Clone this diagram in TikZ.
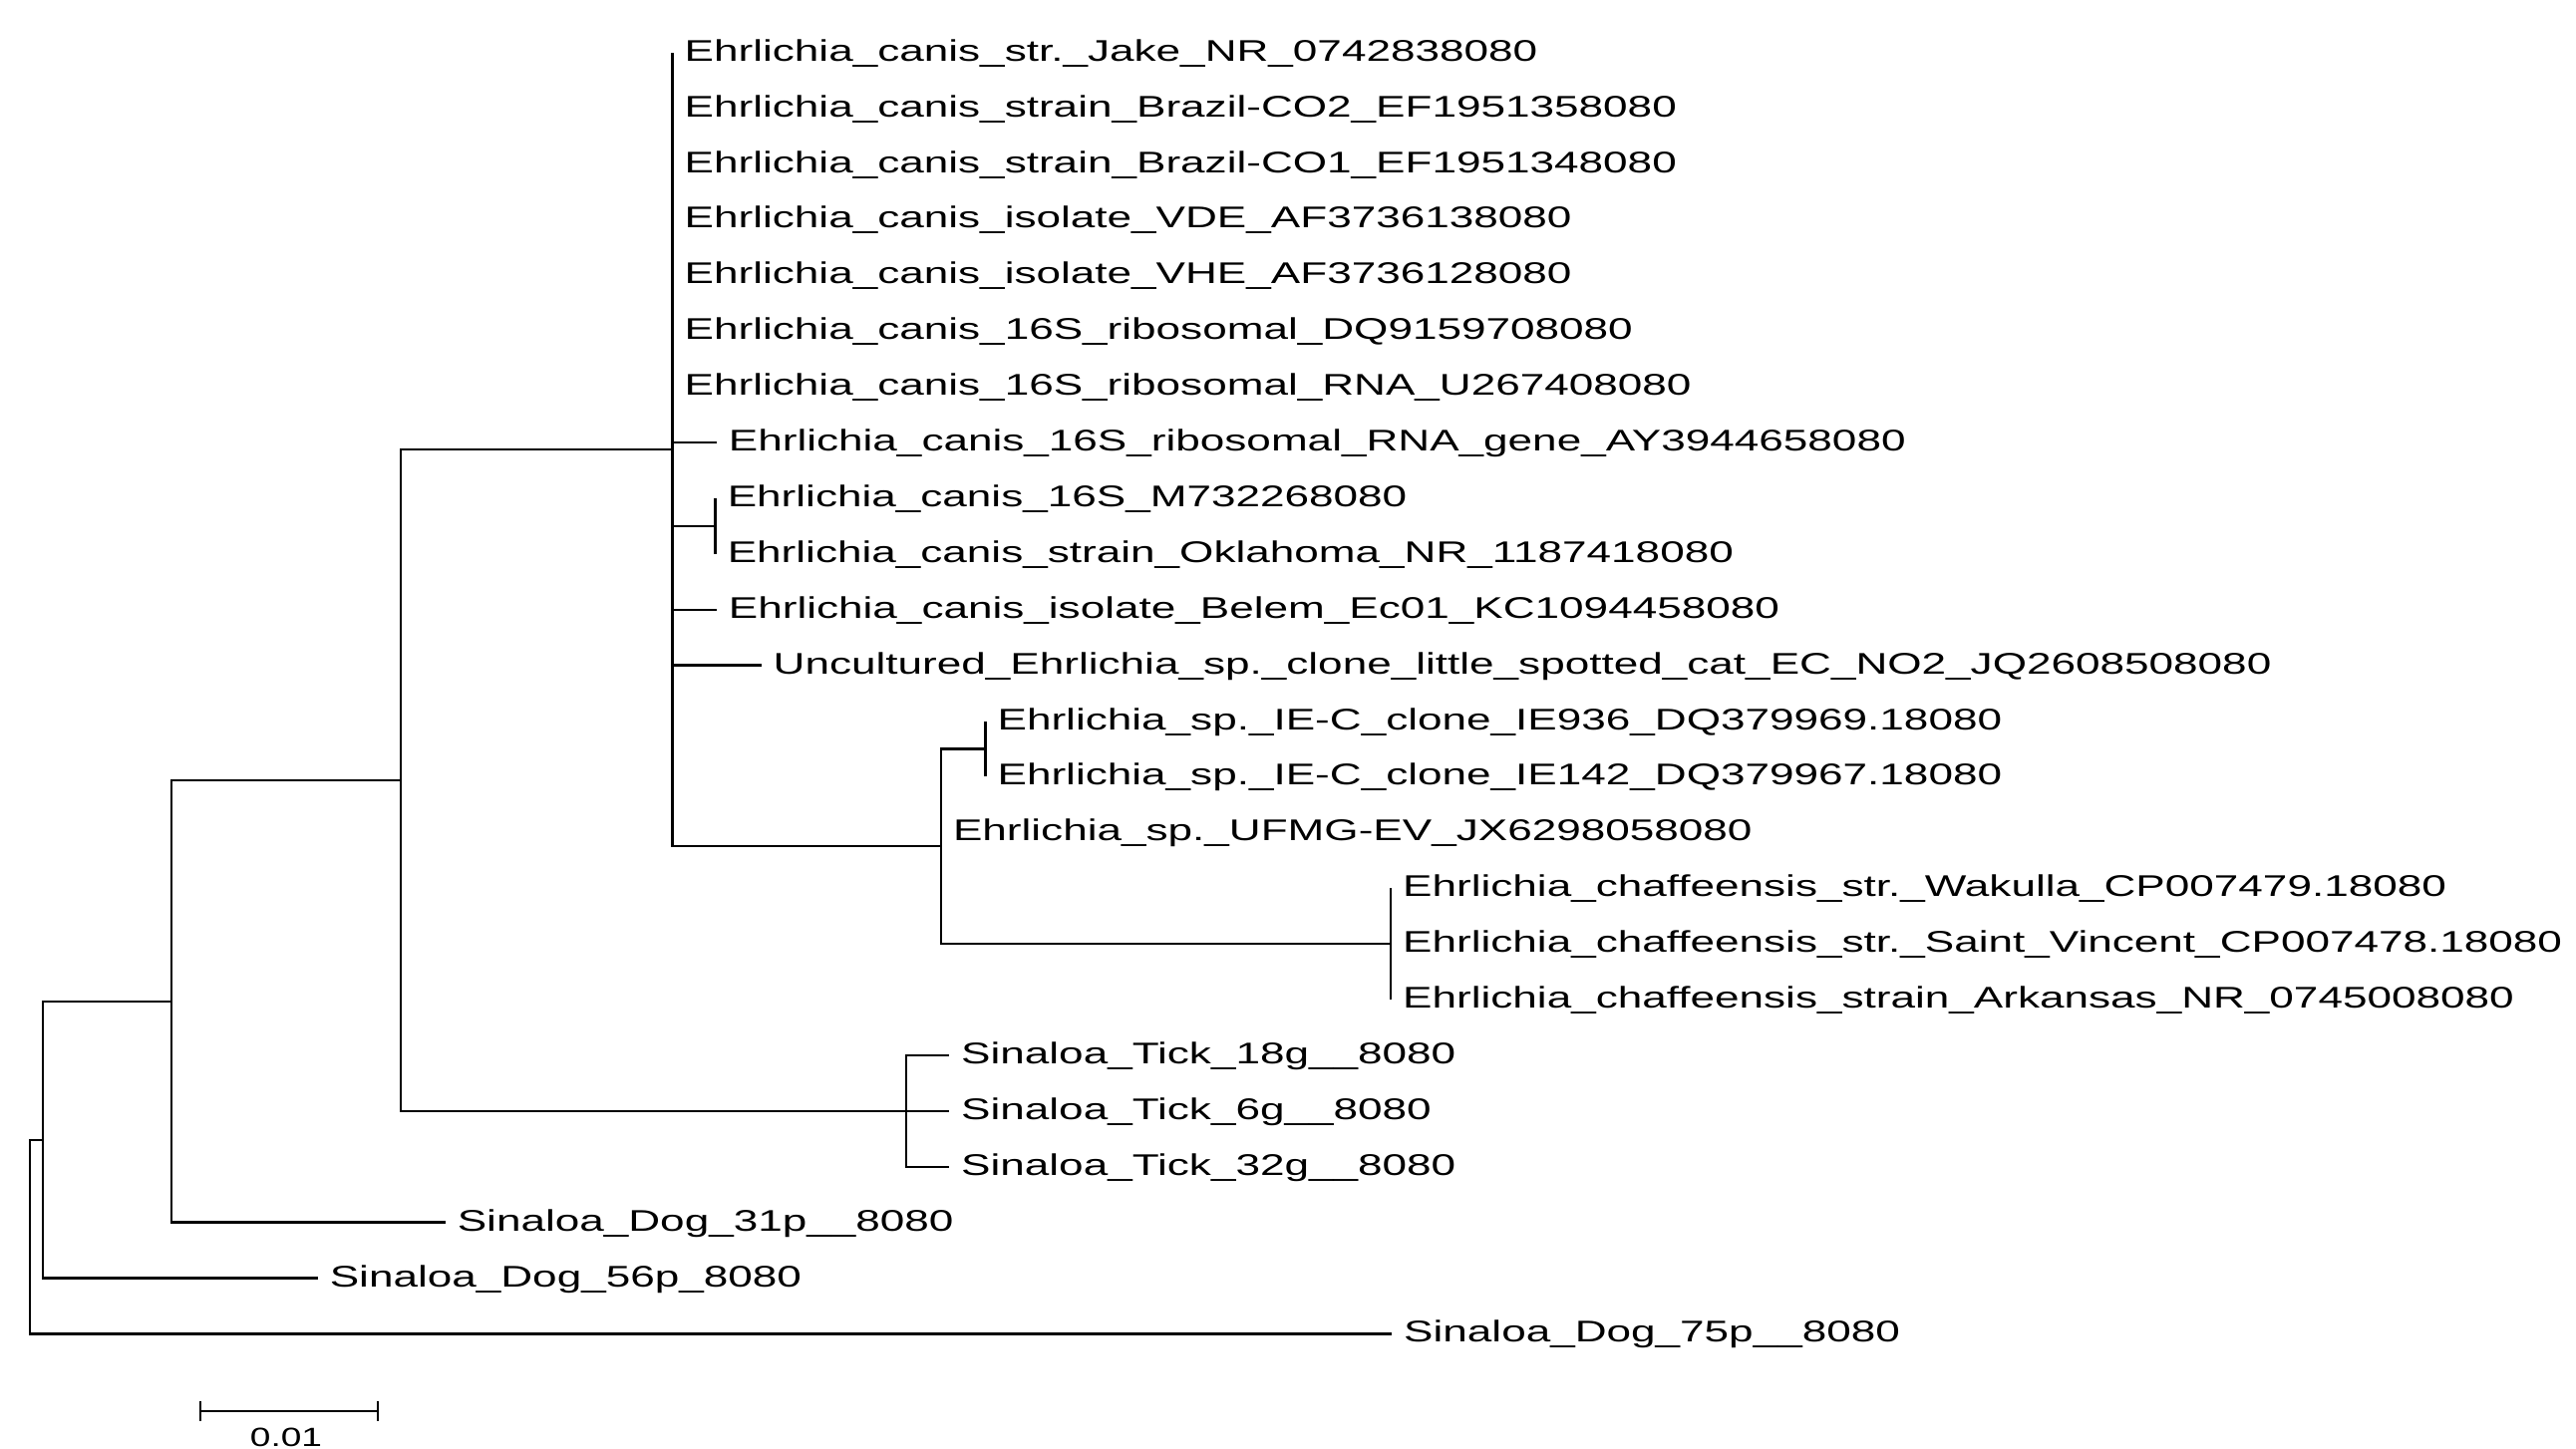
\documentclass[tikz,border=0pt]{standalone}
\usepackage{fontspec}
\newfontfamily\treefont[FakeStretch=1.47]{Liberation Sans}
\newfontfamily\barfont[FakeStretch=1.4]{Liberation Sans}
\begin{document}
\begin{tikzpicture}[x=1pt,y=-1pt,
  branch/.style={line width=2.3pt, line join=miter, draw=black},
  leaf/.style={anchor=base west, inner sep=0pt, xshift=12pt, yshift=-8.5pt,
    font=\treefont\fontsize{30}{36}\selectfont, text=black}]
\fill[white] (0,0) rectangle (2584,1454);
\useasboundingbox (0,0) rectangle (2584,1454);

% internal nodes
\coordinate (R) at (30,1241);
\coordinate (G) at (43,1143.7);
\coordinate (F) at (172,1004.9);
\coordinate (E) at (402,783.25);
\coordinate (A) at (674.5,451);
\coordinate (N) at (717.6,527.85);
\coordinate (B) at (943.8,849.3);
\coordinate (C) at (988.4,751.45);
\coordinate (D) at (1395,947.1);
\coordinate (T) at (909,1114.8);

% leaf ends
\coordinate (l1) at (674.5,52.7);
\coordinate (l2) at (674.5,108.6);
\coordinate (l3) at (674.5,164.5);
\coordinate (l4) at (674.5,220.4);
\coordinate (l5) at (674.5,276.3);
\coordinate (l6) at (674.5,332.2);
\coordinate (l7) at (674.5,388.1);
\coordinate (l8) at (718.7,444.0);
\coordinate (l9) at (717.6,499.9);
\coordinate (l10) at (717.6,555.8);
\coordinate (l11) at (718.7,611.7);
\coordinate (l12) at (763.5,667.6);
\coordinate (l13) at (988.4,723.5);
\coordinate (l14) at (988.4,779.4);
\coordinate (l15) at (943.8,835.3);
\coordinate (l16) at (1395,891.2);
\coordinate (l17) at (1395,947.1);
\coordinate (l18) at (1395,1003.0);
\coordinate (l19) at (952,1058.9);
\coordinate (l20) at (952,1114.8);
\coordinate (l21) at (952,1170.7);
\coordinate (l22) at (446.6,1226.6);
\coordinate (l23) at (318.6,1282.5);
\coordinate (l24) at (1396,1338.4);

% branches
\draw[branch] (R) |- (G);
\draw[branch] (R) |- (l24);
\draw[branch] (G) |- (F);
\draw[branch] (G) |- (l23);
\draw[branch] (F) |- (E);
\draw[branch] (F) |- (l22);
\draw[branch] (E) |- (A);
\draw[branch] (E) |- (T);
\foreach \k in {1,...,8} {\draw[branch] (A) |- (l\k);}
\draw[branch] (A) |- (N);
\draw[branch] (A) |- (l11);
\draw[branch] (A) |- (l12);
\draw[branch] (A) |- (B);
\draw[branch] (N) |- (l9);
\draw[branch] (N) |- (l10);
\draw[branch] (B) |- (C);
\draw[branch] (B) |- (l15);
\draw[branch] (B) |- (D);
\draw[branch] (C) |- (l13);
\draw[branch] (C) |- (l14);
\draw[branch] (D) |- (l16);
\draw[branch] (D) |- (l17);
\draw[branch] (D) |- (l18);
\draw[branch] (T) |- (l19);
\draw[branch] (T) |- (l20);
\draw[branch] (T) |- (l21);

% labels
\node[leaf] (t1) at (l1) {Ehrlichia\_canis\_str.\_Jake\_NR\_0742838080};
\node[leaf] (t2) at (l2) {Ehrlichia\_canis\_strain\_Brazil-CO2\_EF1951358080};
\node[leaf] (t3) at (l3) {Ehrlichia\_canis\_strain\_Brazil-CO1\_EF1951348080};
\node[leaf] (t4) at (l4) {Ehrlichia\_canis\_isolate\_VDE\_AF3736138080};
\node[leaf] (t5) at (l5) {Ehrlichia\_canis\_isolate\_VHE\_AF3736128080};
\node[leaf] (t6) at (l6) {Ehrlichia\_canis\_16S\_ribosomal\_DQ9159708080};
\node[leaf] (t7) at (l7) {Ehrlichia\_canis\_16S\_ribosomal\_RNA\_U267408080};
\node[leaf] (t8) at (l8) {Ehrlichia\_canis\_16S\_ribosomal\_RNA\_gene\_AY3944658080};
\node[leaf] (t9) at (l9) {Ehrlichia\_canis\_16S\_M732268080};
\node[leaf] (t10) at (l10) {Ehrlichia\_canis\_strain\_Oklahoma\_NR\_1187418080};
\node[leaf] (t11) at (l11) {Ehrlichia\_canis\_isolate\_Belem\_Ec01\_KC1094458080};
\node[leaf] (t12) at (l12) {Uncultured\_Ehrlichia\_sp.\_clone\_little\_spotted\_cat\_EC\_NO2\_JQ2608508080};
\node[leaf] (t13) at (l13) {Ehrlichia\_sp.\_IE-C\_clone\_IE936\_DQ379969.18080};
\node[leaf] (t14) at (l14) {Ehrlichia\_sp.\_IE-C\_clone\_IE142\_DQ379967.18080};
\node[leaf] (t15) at (l15) {Ehrlichia\_sp.\_UFMG-EV\_JX6298058080};
\node[leaf] (t16) at (l16) {Ehrlichia\_chaffeensis\_str.\_Wakulla\_CP007479.18080};
\node[leaf] (t17) at (l17) {Ehrlichia\_chaffeensis\_str.\_Saint\_Vincent\_CP007478.18080};
\node[leaf] (t18) at (l18) {Ehrlichia\_chaffeensis\_strain\_Arkansas\_NR\_0745008080};
\node[leaf] (t19) at (l19) {Sinaloa\_Tick\_18g\_\_8080};
\node[leaf] (t20) at (l20) {Sinaloa\_Tick\_6g\_\_8080};
\node[leaf] (t21) at (l21) {Sinaloa\_Tick\_32g\_\_8080};
\node[leaf] (t22) at (l22) {Sinaloa\_Dog\_31p\_\_8080};
\node[leaf] (t23) at (l23) {Sinaloa\_Dog\_56p\_8080};
\node[leaf] (t24) at (l24) {Sinaloa\_Dog\_75p\_\_8080};

% scale bar
\coordinate (s1) at (200.7,1416);
\coordinate (s2) at (378.7,1416);
\coordinate (s1a) at (200.7,1406);
\coordinate (s1b) at (200.7,1426);
\coordinate (s2a) at (378.7,1406);
\coordinate (s2b) at (378.7,1426);
\draw[branch] (s1) -- (s2);
\draw[branch] (s1a) -- (s1b);
\draw[branch] (s2a) -- (s2b);
\node[anchor=base, inner sep=0pt, font=\barfont\fontsize{26.5}{32}\selectfont] (sl) at (287,1451.5) {0.01};
\end{tikzpicture}
\end{document}
